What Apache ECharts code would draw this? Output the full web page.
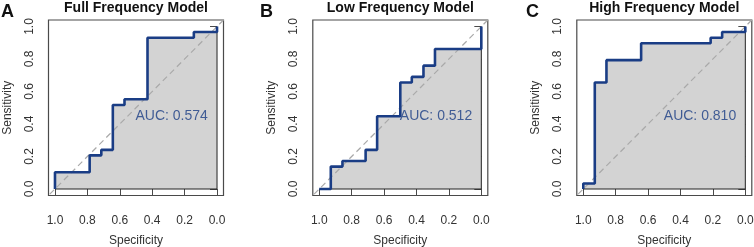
<!DOCTYPE html>
<html>
<head>
<meta charset="utf-8">
<script src="https://cdn.jsdelivr.net/npm/echarts@6/dist/echarts.min.js"></script>
<style>
html, body { margin: 0; padding: 0; background: #fff; }
#chart { width: 754px; height: 247px; }
</style>
</head>
<body>
<div id="chart"></div>
<script>
// ROC steps: at each specificity the sensitivity climbs to the matching value
const specFull = [1.000, 0.786, 0.714, 0.643, 0.571, 0.429, 0.143, 0.000]
const sensFull = [0.103, 0.207, 0.241, 0.517, 0.552, 0.931, 0.966, 1.000]
const specLow = [0.929, 0.857, 0.714, 0.643, 0.500, 0.429, 0.357, 0.286, 0.000]
const sensLow = [0.138, 0.172, 0.241, 0.448, 0.655, 0.690, 0.759, 0.862, 1.000]
const specHigh = [1.000, 0.929, 0.857, 0.643, 0.214, 0.143, 0.000]
const sensHigh = [0.034, 0.655, 0.793, 0.897, 0.931, 0.966, 1.000]

const panelLetters = ['A', 'B', 'C']
const panelTitles = ['Full Frequency Model', 'Low Frequency Model', 'High Frequency Model']
const aucLabels = ['AUC: 0.574', 'AUC: 0.512', 'AUC: 0.810']
const aucPos = [0.5, 0.5]
const tickValues = [0, 0.2, 0.4, 0.6, 0.8, 1.0]
const axisRange = [-0.04, 1.04]

// layout
const gridLeft = [48.5, 312.8, 576.8]
const gridTop = 20
const gridW = 175
const gridH = 175.5
const curveColor = '#1a3d85'
const textColor = '#333'
const boxColor = '#4a4a4a'
const fontFamily = '"Liberation Sans", Arial, Helvetica, sans-serif'

const stepPoints = (spec, sens) => {
    const pts = [[1, 0]]
    let prev = 0
    spec.forEach((s, i) => {
        pts.push([s, prev])
        pts.push([s, sens[i]])
        prev = sens[i]
    })
    return pts
}

const panels = [
    stepPoints(specFull, sensFull),
    stepPoints(specLow, sensLow),
    stepPoints(specHigh, sensHigh)
]

const lo = tickValues[0]
const hi = tickValues[tickValues.length - 1]
const diagonal = axisRange.map(x => [x, 1 - x])

const grid = gridLeft.map(left => ({
    left, top: gridTop, width: gridW, height: gridH,
    outerBoundsMode: 'none', containLabel: false,
    show: true, borderColor: boxColor, borderWidth: 1.2,
    backgroundColor: 'transparent'
}))

const axisCommon = {
    type: 'value',
    min: axisRange[0],
    max: axisRange[1],
    splitLine: { show: false },
    axisLine: { show: false },
    axisTick: { show: true, customValues: tickValues, length: 7, lineStyle: { color: boxColor, width: 1 } },
    axisLabel: {
        customValues: tickValues,
        formatter: v => v.toFixed(1),
        fontSize: 12, color: textColor, fontFamily
    },
    nameLocation: 'middle',
    nameTextStyle: { fontSize: 12, color: textColor, fontFamily }
}

const xAxis = gridLeft.map((_, i) => ({
    ...axisCommon,
    gridIndex: i,
    inverse: true,
    name: 'Specificity',
    nameGap: 39,
    axisLabel: { ...axisCommon.axisLabel, margin: 19 }
}))

const yAxis = gridLeft.map((_, i) => ({
    ...axisCommon,
    gridIndex: i,
    name: 'Sensitivity',
    nameGap: 35,
    axisLabel: { ...axisCommon.axisLabel, rotate: 90, margin: 13 }
}))

const series = []
panels.forEach((pts, i) => {
    series.push({
        type: 'line', xAxisIndex: i, yAxisIndex: i, data: pts,
        symbol: 'none', lineStyle: { width: 0 },
        areaStyle: { color: '#d3d3d3', opacity: 1 }, z: 1
    })
    series.push({
        type: 'line', xAxisIndex: i, yAxisIndex: i,
        data: [[lo, hi], [lo, lo], [hi, lo]],
        symbol: 'none', lineStyle: { color: '#222', width: 1 }, z: 2
    })
    series.push({
        type: 'line', xAxisIndex: i, yAxisIndex: i, data: diagonal,
        symbol: 'none', lineStyle: { color: '#a9a9a9', width: 1.2, type: [6, 4] }, z: 3
    })
    series.push({
        type: 'line', xAxisIndex: i, yAxisIndex: i, data: pts,
        symbol: 'none', lineStyle: { color: curveColor, width: 2.6 }, z: 4
    })
    series.push({
        type: 'scatter', xAxisIndex: i, yAxisIndex: i, data: [aucPos],
        symbolSize: 1, itemStyle: { color: 'transparent' }, z: 5,
        label: {
            show: true, position: [0, 2], align: 'left', verticalAlign: 'top',
            formatter: aucLabels[i], color: curveColor, fontSize: 14, fontFamily
        }
    })
})

const title = []
gridLeft.forEach((left, i) => {
    title.push({
        text: panelTitles[i], left: left + gridW / 2, top: 1, textAlign: 'center', padding: 0,
        textStyle: { fontSize: 14, fontWeight: 'bold', color: '#111', fontFamily }
    })
})
const letterLeft = [1, 260, 526]
letterLeft.forEach((left, i) => {
    title.push({
        text: panelLetters[i], left, top: 3, padding: 0,
        textStyle: { fontSize: 18, fontWeight: 'bold', color: '#111', fontFamily }
    })
})

const chart = echarts.init(document.getElementById('chart'), null, { renderer: 'canvas' })
chart.setOption({
    animation: false,
    backgroundColor: '#fff',
    title,
    grid,
    xAxis,
    yAxis,
    series
})
</script>
</body>
</html>
